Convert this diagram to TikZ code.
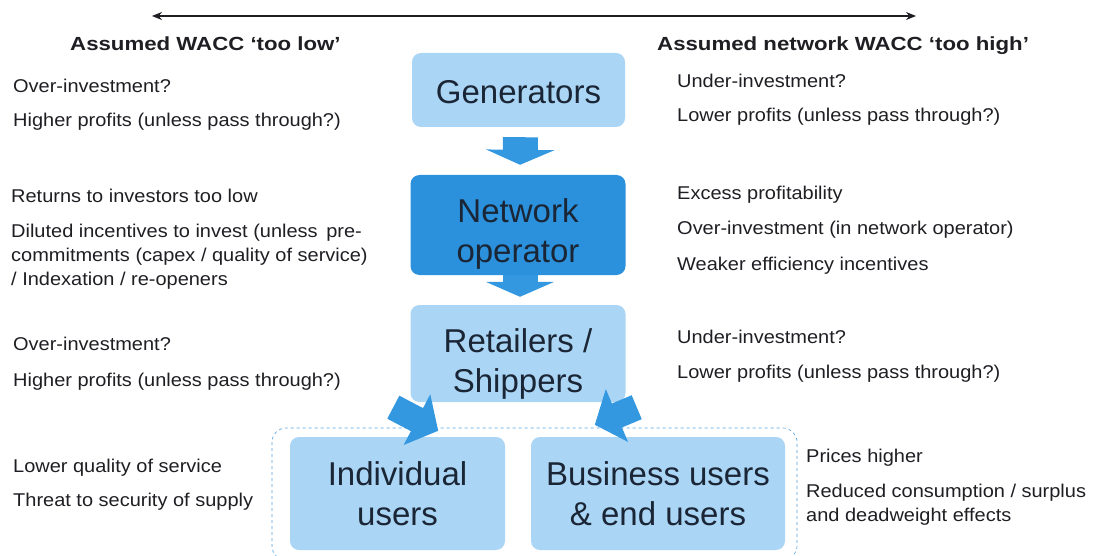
\documentclass[tikz,border=0pt]{standalone}
\usepackage{fontspec}
\setmainfont{Liberation Sans}
\newfontfamily\notefont[FakeStretch=1.08]{Liberation Sans}
\newfontfamily\headfont[FakeStretch=1.17]{Liberation Sans}
\usetikzlibrary{arrows.meta}
\definecolor{boxlight}{RGB}{170,213,245}
\definecolor{boxdark}{RGB}{43,145,220}
\definecolor{arrowblue}{RGB}{52,152,225}
\definecolor{boxtext}{RGB}{26,37,53}
\definecolor{dashblue}{RGB}{80,160,225}
\definecolor{inktext}{RGB}{30,30,35}
\begin{document}
\begin{tikzpicture}[x=1pt,y=-1pt,
  lightbox/.style={fill=boxlight, rounded corners=9pt, inner sep=0pt, align=center,
    text=boxtext, font=\fontsize{33}{40}\selectfont},
  darkbox/.style={lightbox, fill=boxdark},
  boxlabel/.style={align=center, text=boxtext, inner sep=0pt,
    font=\fontsize{33}{40}\selectfont},
  blockarrow/.style={draw=arrowblue, line width=35pt,
    -{Triangle[length=15pt, width=68pt]}},
  smallarrow/.style={draw=arrowblue, line width=26pt,
    -{Triangle[length=24pt, width=56pt]}},
  notetext/.style={anchor=base west, inner sep=0pt, text=inktext,
    font=\notefont\fontsize{18.5}{24}\selectfont},
  headline/.style={anchor=base west, inner sep=0pt, text=inktext,
    font=\headfont\fontsize{19}{22}\selectfont\bfseries},
  scalearrow/.style={line width=1.3pt, draw=inktext,
    {Stealth[length=10pt,width=8pt]}-{Stealth[length=10pt,width=8pt]}}]
\useasboundingbox (0,0) rectangle (1099,556);

% scale of assumed WACC, from too low to too high
\coordinate (lowend) at (152,16);
\coordinate (highend) at (916,16);
\draw[scalearrow] (lowend) -- (highend);
\node[headline] (hlow) at (70,51) {Assumed WACC ‘too low’};
\node[headline] (hhigh) at (657,51) {Assumed network WACC ‘too high’};

% chain of market participants; labels sit slightly below the box centres
\node[lightbox, minimum width=213pt, minimum height=74pt,
  label={[boxlabel, yshift=-2pt]center:Generators}] (gen) at (518.5,90) {};
\node[darkbox, minimum width=215pt, minimum height=100pt,
  label={[boxlabel, yshift=-9pt]center:Network\\operator}] (net) at (518,225) {};
\node[lightbox, minimum width=215pt, minimum height=97pt,
  label={[boxlabel, yshift=-10pt]center:Retailers /\\Shippers}] (ret) at (518,353.5) {};

% end users grouped in a dashed frame
\draw[dashblue, dashed, line width=0.6pt, rounded corners=14pt] (272,428) rectangle (797,560);
\node[lightbox, minimum width=215pt, minimum height=113pt] (ind) at (397.5,493.5) {Individual\\users};
\node[lightbox, minimum width=254pt, minimum height=113pt] (bus) at (658,493.5) {Business users\\\& end users};

% flow arrows
\draw[blockarrow, shorten <=10pt, shorten >=10pt] ([xshift=2pt]gen.south) -- ([xshift=2pt]net.north);
\draw[blockarrow] ([xshift=2pt]net.south) -- ([xshift=2pt,yshift=8pt]ret.north);
\coordinate (lt) at ([xshift=-17pt,yshift=-5pt]ret.south west);
\coordinate (ltip) at ([xshift=-67pt,yshift=6pt]ind.north east);
\coordinate (rt) at ([xshift=11pt,yshift=-5pt]ret.south east);
\coordinate (rtip) at ([xshift=64pt,yshift=12pt]bus.north west);
\draw[smallarrow] (lt) -- (ltip);
\draw[smallarrow] (rt) -- (rtip);

% consequences when the assumed WACC is too low
\node[notetext] (l1) at (13,93) {Over-investment?};
\node[notetext] (l2) at (13,127) {Higher profits (unless pass through?)};
\node[notetext] (l3) at (11,202) {Returns to investors too low};
\node[notetext, align=left] (l4) at (11,285) {Diluted incentives to invest (unless\, pre-\\commitments (capex / quality of service)\\/ Indexation / re-openers};
\node[notetext] (l5) at (13,350) {Over-investment?};
\node[notetext] (l6) at (13,386) {Higher profits (unless pass through?)};
\node[notetext] (l7) at (13,472) {Lower quality of service};
\node[notetext] (l8) at (13,506) {Threat to security of supply};

% consequences when the assumed WACC is too high
\node[notetext] (r1) at (677,88) {Under-investment?};
\node[notetext] (r2) at (677,122) {Lower profits (unless pass through?)};
\node[notetext] (r3) at (677,199) {Excess profitability};
\node[notetext] (r4) at (677,234) {Over-investment (in network operator)};
\node[notetext] (r5) at (677,270) {Weaker efficiency incentives};
\node[notetext] (r6) at (677,343) {Under-investment?};
\node[notetext] (r7) at (677,378) {Lower profits (unless pass through?)};
\node[notetext] (r8) at (806,462) {Prices higher};
\node[notetext, align=left] (r9) at (806,521) {Reduced consumption / surplus\\and deadweight effects};
\end{tikzpicture}
\end{document}
